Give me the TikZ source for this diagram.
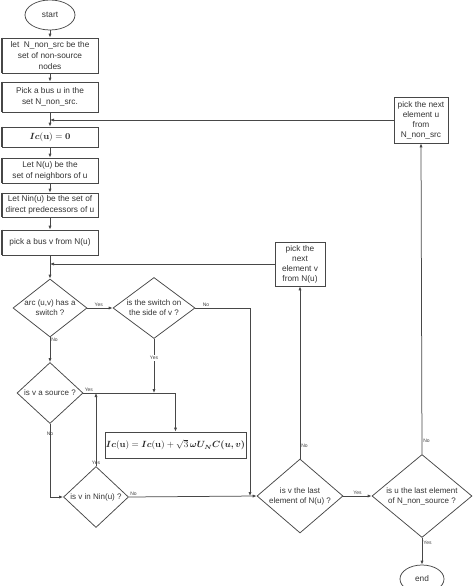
\documentclass[tikz,border=0pt]{standalone}
\usepackage[no-math]{fontspec}
\usepackage{amsmath,bm}
\setmainfont{Liberation Sans}
\usetikzlibrary{shapes.geometric,arrows.meta}
\colorlet{linegray}{black!72}
\tikzset{
  every path/.style={line width=0.75pt},
  box/.style={draw=linegray, rectangle, align=center, inner sep=1pt, text=black!80},
  decision/.style={draw=linegray, diamond, inner sep=0pt},
  terminal/.style={draw=linegray, ellipse, inner sep=0pt, text=black!80},
  lbl/.style={font=\fontsize{5}{6}\selectfont, inner sep=1pt, text=black!75},
  flow/.style={draw=linegray, -{Latex[length=4pt,width=3.2pt]}},
  dtext/.style={align=center, font=\fontsize{8}{10}\selectfont, text=black!80},
  mathbox/.style={box, font=\fontsize{9}{11}\selectfont, text=black!85}
}
\begin{document}
\begin{tikzpicture}[x=1pt,y=-1pt,font=\fontsize{8.3}{11}\selectfont]
\useasboundingbox (0,0) rectangle (474,586);
% main column
\node[terminal, minimum width=50pt, minimum height=30pt] (start) at (50,15) {start};
\node[box, minimum width=96pt, minimum height=35pt] (b1) at (50,55.5) {let \ N\_non\_src be the\\set of non-source\\nodes};
\node[box, minimum width=96pt, minimum height=30pt] (b2) at (50,97) {Pick a bus u in the\\set N\_non\_src.};
\node[mathbox, minimum width=96pt, minimum height=20pt] (b3) at (50,137) {$\bm{Ic}\mathbf{(u)=0}$};
\node[box, minimum width=96pt, minimum height=25pt] (b4) at (50,170.5) {Let N(u) be the\\set of neighbors of u};
\node[box, minimum width=96pt, minimum height=24pt] (b5) at (50,205) {Let Nin(u) be the set of\\direct predecessors of u};
\node[box, minimum width=96pt, minimum height=25pt] (b6) at (50,242.5) {pick a bus v from N(u)};
\foreach \b in {b1,b2,b3,b4,b5,b6}
  \draw[linegray, line width=2.2pt] (\b.north west) -- (\b.south west);
\coordinate (jU) at (50,120);
\coordinate (jV) at (50,264);
% decisions
\node[decision, minimum width=74pt, minimum height=58pt,
  label={[dtext]center:{arc (u,v) has a\\switch ?}}] (d1) at (50,308) {};
\node[decision, minimum width=82pt, minimum height=61pt,
  label={[dtext]center:{is the switch on\\the side of v ?}}] (d2) at (154,308) {};
\node[decision, minimum width=66pt, minimum height=61pt,
  label={[dtext]center:{is v a source ?}}] (d3) at (50,393) {};
\node[decision, minimum width=65pt, minimum height=61pt,
  label={[dtext]center:{is v in Nin(u) ?}}] (d4) at (96,497) {};
\node[decision, minimum width=86pt, minimum height=74pt,
  label={[dtext]center:{is v the last\\element of N(u) ?}}] (d5) at (300,496) {};
\node[decision, minimum width=100pt, minimum height=83pt,
  label={[dtext]center:{is u the last element\\of N\_non\_source ?}}] (d6) at (422,496) {};
\node[mathbox, minimum width=139pt, minimum height=26pt] (ic) at (175.5,445)
  {$\bm{Ic}\mathbf{(u)}=\bm{Ic}\mathbf{(u)}+\sqrt{3}\,\bm{\omega U_N C(u,v)}$};
\node[box, minimum width=50pt, minimum height=44pt, font=\fontsize{8.3}{10}\selectfont] (nv) at (300,264) {pick the\\next\\element v\\from N(u)};
\node[box, minimum width=54pt, minimum height=46pt, font=\fontsize{8.3}{10}\selectfont] (nu) at (421,120) {pick the next\\element u\\from\\N\_non\_src};
\node[terminal, minimum width=44pt, minimum height=28pt] (end) at (422,579) {end};
\coordinate (jY) at (154,393);
\coordinate (jN) at (250,496);
% connectors
\draw[flow] (start) -- (b1);
\draw[flow] (b1) -- (b2);
\draw[flow] (b2) -- (b3);
\draw[flow] (b3) -- (b4);
\draw[flow] (b4) -- (b5);
\draw[flow] (b5) -- (b6);
\draw[flow] (b6) -- (d1);
\draw[flow] (nu.west) -- (jU);
\draw[flow] (nv.west) -- (jV);
\draw[flow] (d1) -- node[lbl, above, pos=0.45] {Yes} (d2);
\draw[flow] (d1) -- node[lbl, right, pos=0.1] {No} (d3);
\draw[flow] (d2.east) -| (jN);
\node[lbl, above right] (nd2) at (d2.east) {\hspace{6pt}No};
\draw[flow] (d2.south) -- node[lbl, pos=0.35, fill=white] {Yes} (jY);
\draw[flow] (d3.east) -| (ic.north);
\node[lbl, above right] (yd3) at (d3.east) {Yes};
\draw[flow] (d3.south) |- (d4.west);
\node[lbl, below] (nd3) at (50,431) {No};
\draw[flow] (d4.north) -- (d4.north |- d3.east);
\node[lbl, above] (yd4) at (d4.north) {Yes};
\draw[flow] (d4.east) -- (d5.west);
\node[lbl, above right] (nd4) at (d4.east) {No};
\draw[flow] (d5.north) -- (nv.south);
\node[lbl, right] (nd5) at ([yshift=13pt]d5.north) {No};
\draw[flow] (d5.east) -- node[lbl, above] {Yes} (d6.west);
\draw[flow] (d6.north) -- (nu.south);
\node[lbl, right] (nd6) at ([yshift=13pt]d6.north) {No};
\draw[flow] (d6.south) -- (end.north);
\node[lbl, right] (yd6) at ([yshift=-5pt]d6.south) {Yes};
\end{tikzpicture}
\end{document}
